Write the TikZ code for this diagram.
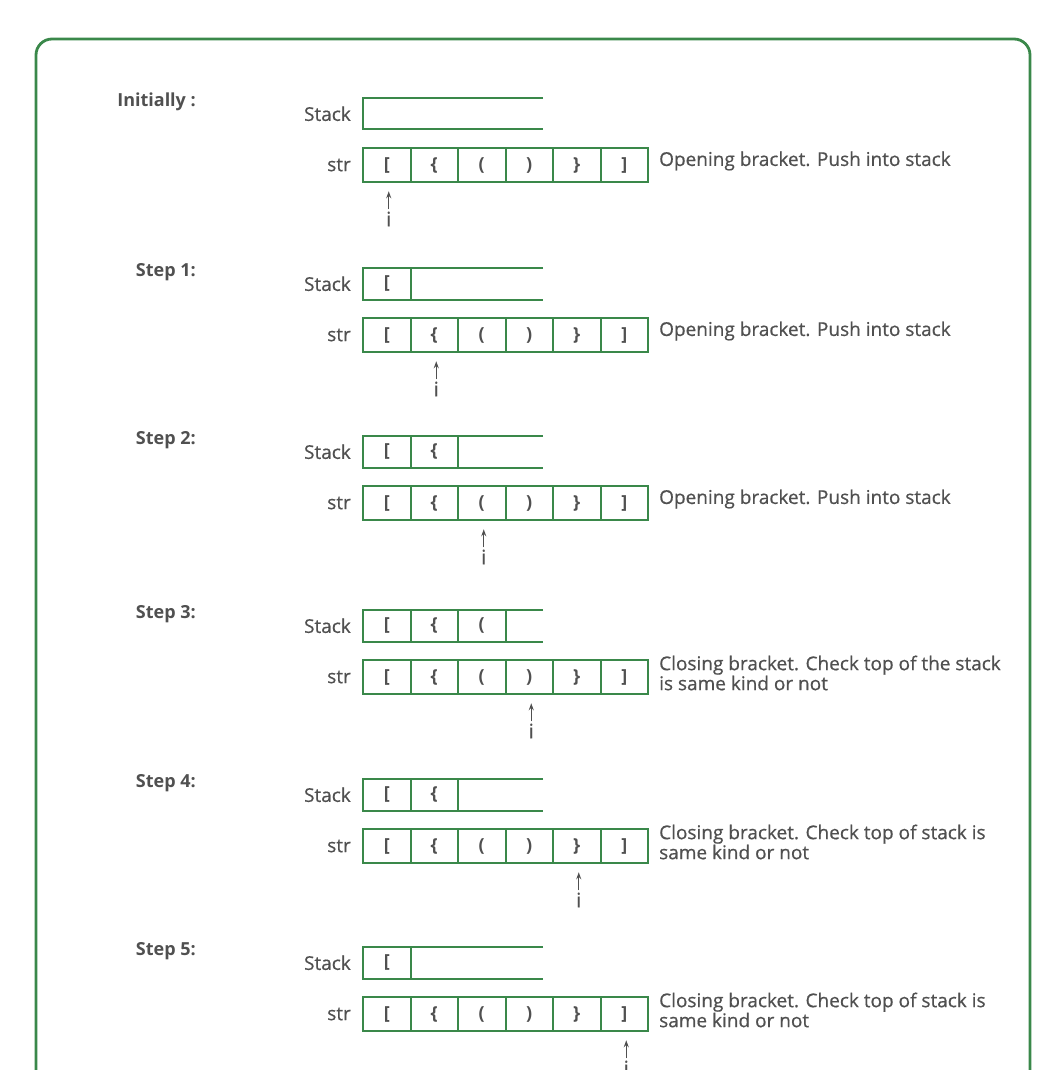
\documentclass[tikz,border=0pt]{standalone}
\usepackage{fontspec}
\setmainfont{Open Sans}
\newfontfamily\medfont[FakeBold=0.6]{Open Sans}
\usepackage{xcolor}
\usetikzlibrary{arrows.meta,positioning,calc}

\definecolor{gfggreen}{RGB}{58,136,74}
\definecolor{txtgray}{RGB}{80,80,80}

\begin{document}
\begin{tikzpicture}[
    x=1pt, y=-1pt,
    frameline/.style={draw=gfggreen, line width=2pt},
    cellbox/.style={rectangle, frameline, inner sep=0pt, minimum width=47.5pt, minimum height=34.5pt, text=txtgray, font=\fontsize{18}{18}\selectfont\bfseries},
    stackbox/.style={cellbox, minimum height=31.5pt},
    steplabel/.style={anchor=east, inner sep=0pt, text=txtgray, font=\fontsize{18}{18}\selectfont\bfseries},
    rowlabel/.style={anchor=east, inner sep=0pt, text=txtgray, font=\fontsize{19}{18}\selectfont\medfont},
    note/.style={anchor=west, inner sep=0pt, align=left, text=txtgray, font=\fontsize{19}{17}\selectfont\medfont},
    ptrlabel/.style={inner sep=0pt, text=txtgray, font=\fontsize{20}{20}\selectfont\medfont},
    ptr/.style={-{Stealth[length=7pt, width=5pt]}, line width=1.4pt, draw=txtgray}
]
    \useasboundingbox (0,0) rectangle (1062,1070);
    % outer panel, open at the bottom
    \draw [draw=gfggreen, line width=2.8pt, rounded corners=16pt] (36,1090) -- (36,39) -- (1030,39) -- (1030,1090);

    \foreach \s/\top/\lab/\n/\p/\txt in {
        0/98/{Initially :}/0/1/{Opening bracket. Push into stack},
        1/268/{Step 1:}/1/2/{Opening bracket. Push into stack},
        2/436/{Step 2:}/2/3/{Opening bracket. Push into stack},
        3/610/{Step 3:}/3/4/{Closing bracket. Check top of the stack\\is same kind or not},
        4/779/{Step 4:}/2/5/{Closing bracket. Check top of stack is\\same kind or not},
        5/947/{Step 5:}/1/6/{Closing bracket. Check top of stack is\\same kind or not}}
    {
        \node [steplabel] (lab\s) at (196,\top+4) {\lab};

        % stack
        \node [rowlabel] (stk\s) at (351,\top+15.75) {Stack};
        \draw [frameline] (543,\top) -- (363,\top) -- (363,\top+31.5) -- (543,\top+31.5);
        \foreach \c [count=\k] in {{[},{\{},{(}} {
            \ifnum\k>\n\else
                \node [stackbox] (s\s-\k) at ({363+47.5*(\k-0.5)},{\top+15.75}) {\c};
            \fi
        }

        % input string
        \node [rowlabel] (str\s) at (351,\top+67) {str};
        \foreach \c [count=\k] in {{[},{\{},{(},{)},{\}},{]}}
            \node [cellbox] (c\s-\k) at ({363+47.5*(\k-0.5)},{\top+67}) {\c};
        \node [note] (txt\s) at (659,\top+63) {\txt};

        % pointer i
        \node [ptrlabel] (i\s) at ({363+47.5*(\p-0.5)+2},{\top+121}) {i};
        \draw [ptr, shorten <=2pt, shorten >=8pt] (i\s.north) -- (i\s.north |- c\s-\p.south);
    }
\end{tikzpicture}
\end{document}
